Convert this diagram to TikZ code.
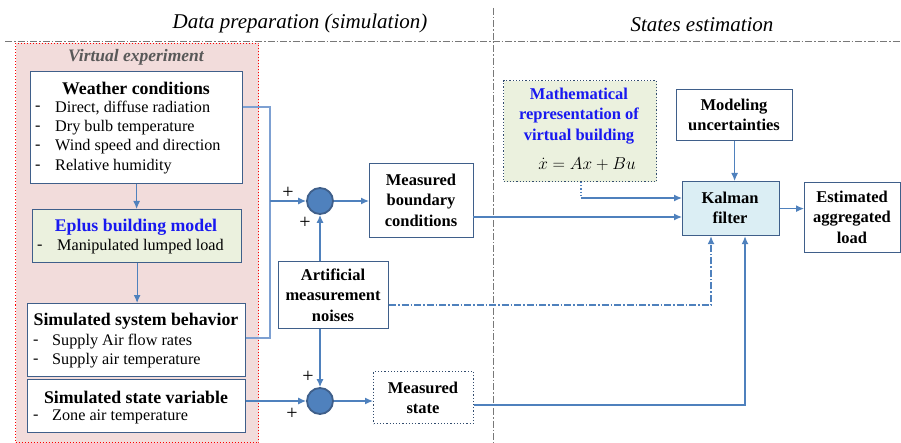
\documentclass[tikz,border=0pt]{standalone}
\usepackage{fontspec}
\setmainfont{Liberation Serif}
\usetikzlibrary{arrows.meta,calc}
\definecolor{lineblue}{HTML}{4F81BD}
\definecolor{feedblue}{RGB}{125,160,210}
\definecolor{boxblue}{HTML}{3F5F8A}
\definecolor{pinkfill}{HTML}{F2DCDB}
\definecolor{greenfill}{HTML}{EBF1DE}
\definecolor{kalfill}{HTML}{DBEEF4}
\definecolor{titleblue}{RGB}{25,25,240}
\definecolor{sepgray}{RGB}{120,120,120}
\begin{document}
\begin{tikzpicture}[x=1pt,y=-1pt,
  box/.style={draw=boxblue,line width=1.2pt,fill=white,anchor=north west,inner sep=0pt},
  dotbox/.style={box,draw=boxblue!80!black,dotted,line width=1.1pt},
  lbl/.style={font=\fontsize{16.5}{20.5}\selectfont\bfseries,align=center,inner sep=1pt},
  ttl/.style={font=\fontsize{17.8}{20}\selectfont\bfseries,inner sep=1pt},
  itm/.style={font=\fontsize{16.2}{19}\selectfont,anchor=west,inner sep=0pt},
  conn/.style={draw=lineblue,line width=1.2pt},
  arr/.style={conn,-{Latex[length=8pt,width=7pt]}},
  feed/.style={draw=feedblue,line width=1.5pt},
  sep/.style={draw=sepgray,line width=0.8pt,dash pattern=on 7pt off 2pt on 1.5pt off 2pt},
  sumnode/.style={circle,fill=lineblue,draw=boxblue,line width=1.8pt,minimum size=26pt,inner sep=0pt},
  plus/.style={font=\fontsize{20}{20}\selectfont,inner sep=0pt}
]
\useasboundingbox (0,0) rectangle (901,443);

% headers and separators
\node[font=\fontsize{21}{24}\selectfont\itshape] (hleft) at (300,23) {Data preparation (simulation)};
\node[font=\fontsize{21}{24}\selectfont\itshape] (hright) at (702,25) {States estimation};
\draw[sep] (5,41) -- (901,41);
\draw[sep] (493,8) -- (493,443);

% virtual experiment area
\node[draw=red,dotted,line width=1pt,fill=pinkfill,anchor=north west,minimum width=243,minimum height=399,inner sep=0pt] (virt) at (15,43) {};
\node[font=\fontsize{17.5}{20}\selectfont\bfseries\itshape,text=black!65] (virtlbl) at (136,57) {Virtual experiment};

% left boxes
\node[box,minimum width=212,minimum height=112] (weather) at (30,71) {};
\node[ttl] (weathert) at (136,88) {Weather conditions};
\node[itm] (w1d) at (35,108) {-}; \node[itm] (w1) at (55,108) {Direct, diffuse radiation};
\node[itm] (w2d) at (35,128) {-}; \node[itm] (w2) at (55,128) {Dry bulb temperature};
\node[itm] (w3d) at (35,147) {-}; \node[itm] (w3) at (55,147) {Wind speed and direction};
\node[itm] (w4d) at (35,167) {-}; \node[itm] (w4) at (55,167) {Relative humidity};

\node[box,fill=greenfill,minimum width=209,minimum height=53] (eplus) at (32,209) {};
\node[ttl,text=titleblue] (eplust) at (136,227) {Eplus building model};
\node[itm] (e1d) at (37,247) {-}; \node[itm] (e1) at (57,247) {Manipulated lumped load};

\node[box,minimum width=218,minimum height=73] (simsys) at (27,303) {};
\node[ttl] (simsyst) at (136,321) {Simulated system behavior};
\node[itm] (s1d) at (33,342) {-}; \node[itm] (s1) at (52,342) {Supply Air flow rates};
\node[itm] (s2d) at (33,361) {-}; \node[itm] (s2) at (52,361) {Supply air temperature};

\node[box,minimum width=218,minimum height=53] (simstate) at (27,379) {};
\node[ttl] (simstatet) at (136,397) {Simulated state variable};
\node[itm] (z1d) at (33,417) {-}; \node[itm] (z1) at (52,417) {Zone air temperature};

% middle
\node[sumnode] (sum1) at (320,201) {};
\node[sumnode] (sum2) at (320,401) {};
\node[box,minimum width=110,minimum height=67] (artif) at (278,261) {};
\node[lbl] (artift) at (333,295) {Artificial\\measurement\\noises};
\node[box,minimum width=104,minimum height=74] (measb) at (369,163) {};
\node[lbl] (measbt) at (421,200) {Measured\\boundary\\conditions};
\node[dotbox,minimum width=100,minimum height=52] (meass) at (373,371) {};
\node[lbl] (measst) at (423,398) {Measured\\state};

\node[plus] (p1) at (288,193) {+};
\node[plus] (p2) at (305,223) {+};
\node[plus] (p3) at (308,377) {+};
\node[plus] (p4) at (292,414) {+};

% right
\node[dotbox,fill=greenfill,minimum width=153,minimum height=101] (math) at (503,80) {};
\node[lbl,text=titleblue,inner sep=0pt] (matht) at (579,116) {Mathematical\\representation of\\virtual building};
\node[font=\fontsize{17}{20}\selectfont,inner sep=0pt] (mathe) at (587,164) {$\dot{x} = Ax + Bu$};
\node[box,minimum width=116,minimum height=51] (model) at (676,89) {};
\node[lbl] (modelt) at (734,115) {Modeling\\uncertainties};
\node[box,fill=kalfill,minimum width=97,minimum height=54] (kalman) at (682,181) {};
\node[lbl] (kalmant) at (730,208) {Kalman\\filter};
\node[box,minimum width=96,minimum height=70] (estim) at (804,182) {};
\node[lbl] (estimt) at (852,217) {Estimated\\aggregated\\load};

% connectors
\draw[arr] (weather.south) -- (weather.south |- eplus.north);
\draw[arr] (eplus.south) -- (eplus.south |- simsys.north);
\coordinate (busTop) at (270,107);
\coordinate (busMid) at (270,201);
\coordinate (busBot) at (270,338);
\draw[feed] (weather.east |- busTop) -- (busTop) -- (busBot) -- (simsys.east |- busBot);
\draw[arr] (busMid) -- (sum1.west);
\draw[arr] (sum1.east) -- (sum1.east -| measb.west);
\draw[arr] (sum1 |- artif.north) -- (sum1.south);
\draw[arr] (sum2 |- artif.south) -- (sum2.north);
\draw[arr] (simstate.east |- sum2) -- (sum2.west);
\draw[arr] (sum2.east) -- (sum2.east -| meass.west);

\coordinate (kin1) at (711,305);
\coordinate (kin2) at (745,405);
\draw[conn,dash pattern=on 7pt off 2pt on 1.5pt off 2pt,-{Latex[length=8pt,width=7pt]}] (artif.east |- kin1) -- (kin1) -- (kin1 |- kalman.south);
\draw[arr] (meass.east |- kin2) -- (kin2) -- (kin2 |- kalman.south);
\coordinate (mb) at (473,217);
\draw[arr] (mb) -- (mb -| kalman.west);
\coordinate (mc) at (581,198);
\draw[conn,dotted] (mc |- math.south) -- (mc);
\draw[arr] (mc) -- (mc -| kalman.west);
\draw[arr] (model.south) -- (model.south |- kalman.north);
\draw[arr] (kalman.east) -- (kalman.east -| estim.west);
\end{tikzpicture}
\end{document}
